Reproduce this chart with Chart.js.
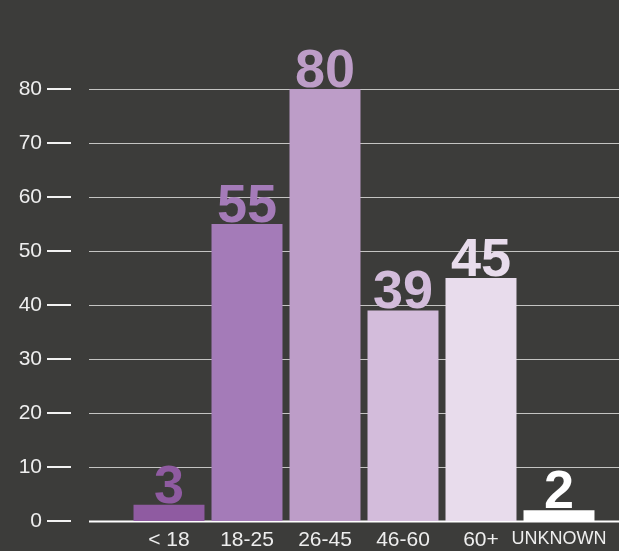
<!DOCTYPE html>
<html>
<head>
<meta charset="utf-8">
<script src="https://cdn.jsdelivr.net/npm/chart.js@4/dist/chart.umd.min.js"></script>
<style>
  html, body { margin: 0; padding: 0; background: #3c3c3a; overflow: hidden; }
  canvas { display: block; }
</style>
</head>
<body>
<canvas id="c" width="619" height="551" style="width:619px;height:551px"></canvas>
<script>
const categories = ['< 18', '18-25', '26-45', '46-60', '60+', 'UNKNOWN'];
const counts = [3, 55, 80, 39, 45, 2];
const barColors = ['#8f5ba1', '#a47bb8', '#bd9dc8', '#d3bcdb', '#e8dcec', '#ffffff'];
const yTicks = [0, 10, 20, 30, 40, 50, 60, 70, 80];

const FONT = "'Liberation Sans', Arial, sans-serif";

const gridPlugin = {
  id: 'extGrid',
  beforeDatasetsDraw(chart) {
    const ctx = chart.ctx;
    const y = chart.scales.y;
    const left = chart.chartArea.left;
    ctx.save();
    yTicks.forEach(v => {
      const py = Math.round(y.getPixelForValue(v));
      ctx.strokeStyle = '#f2f2f2';
      ctx.lineWidth = 2;
      ctx.beginPath();
      ctx.moveTo(left - 83, py);
      ctx.lineTo(left - 59, py);
      ctx.stroke();
      if (v === 0) {
        ctx.strokeStyle = '#ffffff';
        ctx.lineWidth = 2;
      } else {
        ctx.strokeStyle = '#c4c4c2';
        ctx.lineWidth = 1;
      }
      ctx.beginPath();
      ctx.moveTo(left - 41, py + 0.5);
      ctx.lineTo(chart.width, py + 0.5);
      ctx.stroke();
    });
    ctx.restore();
  }
};

const labelPlugin = {
  id: 'valueLabels',
  afterDatasetsDraw(chart) {
    const ctx = chart.ctx;
    const meta = chart.getDatasetMeta(0);
    ctx.save();
    ctx.font = "bold 54px " + FONT;
    ctx.textAlign = 'center';
    ctx.textBaseline = 'alphabetic';
    meta.data.forEach((bar, i) => {
      ctx.fillStyle = barColors[i];
      ctx.fillText(String(counts[i]), bar.x, bar.y - 2);
    });
    ctx.restore();
  }
};

new Chart(document.getElementById('c'), {
  type: 'bar',
  data: {
    labels: categories,
    datasets: [{
      data: counts,
      backgroundColor: barColors,
      borderWidth: 0,
      categoryPercentage: 1.0,
      barPercentage: 0.91
    }]
  },
  options: {
    responsive: false,
    maintainAspectRatio: false,
    animation: false,
    devicePixelRatio: 1,
    layout: { padding: { top: 89, right: 21, bottom: 0, left: 0 } },
    plugins: { legend: { display: false }, tooltip: { enabled: false } },
    scales: {
      x: {
        grid: { display: false, drawTicks: true, tickLength: 7 },
        border: { display: false },
        ticks: {
          color: '#eeeeee',
          padding: 0,
          maxRotation: 0,
          autoSkip: false,
          font: (c) => ({ family: FONT, size: (c.index === 5 ? 18 : 21) })
        },
        afterFit(scale) { scale.height = 30; }
      },
      y: {
        min: 0,
        max: 80,
        grid: { display: false, drawTicks: true, tickLength: 88 },
        border: { display: false },
        ticks: {
          stepSize: 10,
          color: '#eeeeee',
          padding: 0,
          font: { family: FONT, size: 21 }
        },
        afterFit(scale) { scale.width = 130; }
      }
    }
  },
  plugins: [gridPlugin, labelPlugin]
});
</script>
</body>
</html>
